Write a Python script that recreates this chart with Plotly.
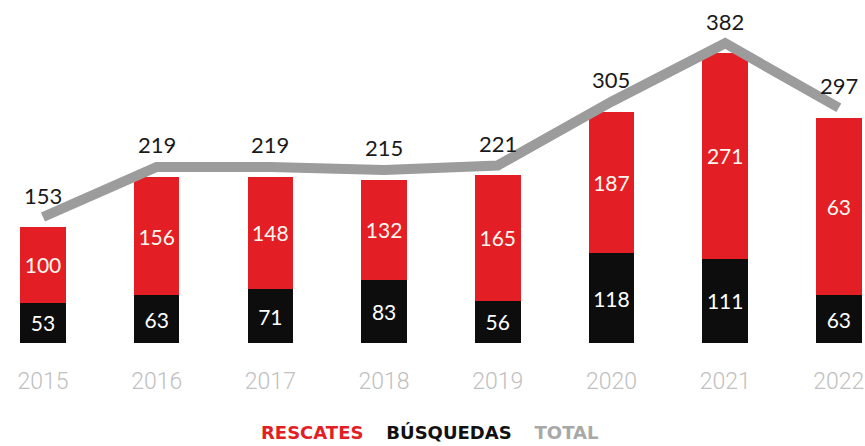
import plotly.graph_objects as go

years = ["2015", "2016", "2017", "2018", "2019", "2020", "2021", "2022"]
busquedas = [53, 63, 71, 83, 56, 118, 111, 63]
rescates = [100, 156, 148, 132, 165, 187, 271, 234]
rescates_labels = ["100", "156", "148", "132", "165", "187", "271", "63"]
totales = [153, 219, 219, 215, 221, 305, 382, 297]

RED = "#e31e24"
BLACK = "#0d0d0d"
GRAY = "#9c9c9c"
NUM_FONT = "Lato"

fig = go.Figure()
fig.add_trace(go.Bar(
    x=years, y=busquedas, name="BÚSQUEDAS", marker_color=BLACK,
    text=[str(v) for v in busquedas], textposition="inside",
    insidetextanchor="middle", textangle=0,
    textfont=dict(color="white", size=21, family=NUM_FONT),
    width=0.4, marker_line_width=0,
))
fig.add_trace(go.Bar(
    x=years, y=rescates, name="RESCATES", marker_color=RED,
    text=rescates_labels, textposition="inside",
    insidetextanchor="middle", textangle=0,
    textfont=dict(color="#fff8f0", size=21, family=NUM_FONT),
    width=0.4, marker_line_width=0,
))
fig.add_trace(go.Scatter(
    x=years, y=totales, name="TOTAL", mode="lines", yaxis="y2",
    line=dict(color=GRAY, width=10, shape="linear"),
    cliponaxis=False,
))

for i, t in enumerate(totales):
    fig.add_annotation(
        x=i, y=t, xref="x", yref="y2", text=str(t), showarrow=False,
        yshift=22, yanchor="middle",
        font=dict(family=NUM_FONT, size=22, color="#1a1a1a"),
    )

fig.add_annotation(
    x=0.497, y=-0.262, xref="paper", yref="paper", showarrow=False,
    xanchor="center", yanchor="middle",
    text=("<span style='color:%s'><b>RESCATES</b></span>"
          "&nbsp;&nbsp;&nbsp;&nbsp;<span style='color:#111111'><b>BÚSQUEDAS</b></span>"
          "&nbsp;&nbsp;&nbsp;&nbsp;<span style='color:#a8a8a8'><b>TOTAL</b></span>") % RED,
    font=dict(family="DejaVu Sans", size=18),
)

ymax = 452
fig.update_layout(
    width=865, height=446,
    margin=dict(l=0, r=0, t=0, b=103),
    barmode="stack", bargap=0.6,
    showlegend=False,
    paper_bgcolor="white", plot_bgcolor="white",
    xaxis=dict(
        type="category", range=[-0.378, 7.23],
        showgrid=False, zeroline=False, showline=False, ticks="",
        tickfont=dict(family="Roboto", size=23, color="#c0c0c0", weight=300),
        ticklabelstandoff=22,
    ),
    yaxis=dict(range=[0, ymax], visible=False, showgrid=False, zeroline=False),
    yaxis2=dict(range=[-13, ymax - 13], overlaying="y", visible=False,
                showgrid=False, zeroline=False),
)

fig.write_html("out.html", config={"displayModeBar": False},
               post_script="document.body.style.margin='0';")
